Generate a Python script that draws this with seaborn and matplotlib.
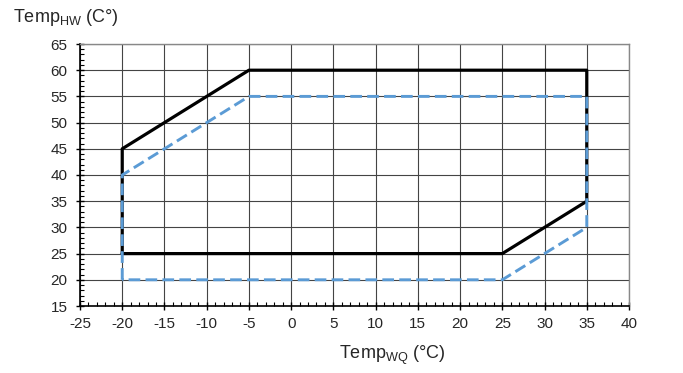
import pandas as pd
import matplotlib.pyplot as plt
import seaborn as sns
from matplotlib.ticker import MultipleLocator

# operating envelope corners (outdoor temp, hot water temp)
black_x = [-20, -20, -5, 35, 35, 25, -20]
black_y = [25, 45, 60, 60, 35, 25, 25]
blue_x = [-20, -20, -5, 35, 35, 25, -20]
blue_y = [20, 40, 55, 55, 30, 20, 20]

x_ticks = list(range(-25, 45, 5))
y_ticks = list(range(15, 70, 5))

sns.set_style("white")
plt.rcParams["font.family"] = ["Liberation Sans", "DejaVu Sans"]
plt.rcParams["axes.unicode_minus"] = False
plt.rcParams["mathtext.fontset"] = "custom"
plt.rcParams["mathtext.rm"] = "Liberation Sans"
plt.rcParams["mathtext.it"] = "Liberation Sans"

fig = plt.figure(figsize=(6.83, 3.73), dpi=100)
ax = fig.add_axes([80 / 683, 1 - 306 / 373, 549 / 683, 262 / 373])

black = pd.DataFrame({"x": black_x, "y": black_y})
blue = pd.DataFrame({"x": blue_x, "y": blue_y})

sns.lineplot(data=black, x="x", y="y", sort=False, estimator=None,
             color="black", linewidth=2.3, ax=ax, zorder=3)
sns.lineplot(data=blue, x="x", y="y", sort=False, estimator=None,
             color="#5b9bd5", linewidth=2.1, ax=ax, zorder=4,
             dashes=False, linestyle=(0, (4, 1.8)))

ax.set_xlim(-25, 40)
ax.set_ylim(15, 65)
ax.set_xticks(x_ticks)
ax.set_yticks(y_ticks)
ax.xaxis.set_minor_locator(MultipleLocator(1))
ax.yaxis.set_minor_locator(MultipleLocator(1))
ax.tick_params(which="major", direction="inout", length=6, width=1, color="black",
               labelsize=11, bottom=True, left=True)
ax.tick_params(axis="x", which="major", pad=5)
ax.tick_params(axis="y", which="major", pad=6)
ax.tick_params(which="minor", direction="in", length=3, width=0.8, color="black",
               bottom=True, left=True)
ax.grid(True, which="major", color="#444444", linewidth=0.8)
ax.set_axisbelow(True)

for side in ["left", "bottom"]:
    ax.spines[side].set_color("black")
    ax.spines[side].set_linewidth(1.2)
for side in ["top", "right"]:
    ax.spines[side].set_color("#888888")
    ax.spines[side].set_linewidth(1)

ax.set_xlabel("")
ax.set_ylabel("")
fig.text(339 / 683, 1 - 355 / 373, r"Temp$_{\mathrm{WQ}}$ (°C)", ha="left", va="center", fontsize=13)
fig.text(13 / 683, 1 - 18 / 373, r"Temp$_{\mathrm{HW}}$ (C°)", ha="left", va="center", fontsize=13)

plt.savefig("out.png", dpi=100)
